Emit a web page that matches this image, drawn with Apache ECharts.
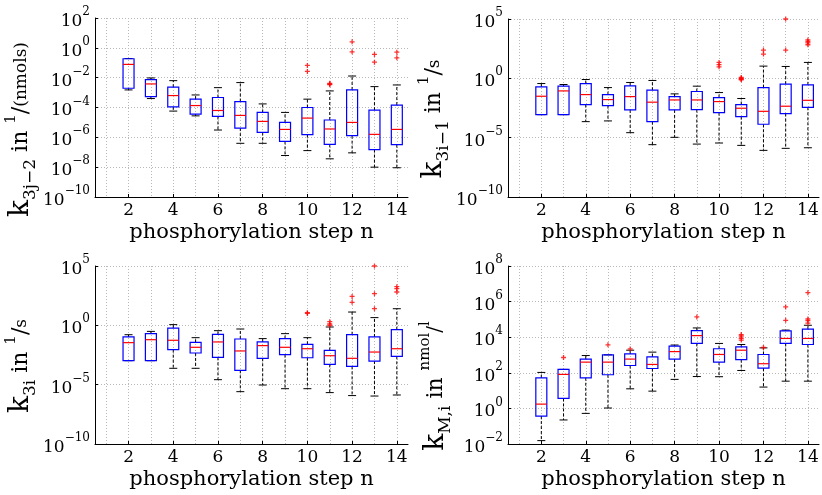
<!DOCTYPE html>
<html><head><meta charset="utf-8">
<script src="https://cdn.jsdelivr.net/npm/echarts@6/dist/echarts.min.js"></script>
<style>html,body{margin:0;padding:0;background:#fff}#c{width:822px;height:495px}</style>
</head><body><div id="c"></div>
<script>
// x categories (phosphorylation step n)
const categories = ['1','2','3','4','5','6','7','8','9','10','11','12','13','14'];
const boxCats = ['2','3','4','5','6','7','8','9','10','11','12','13','14'];

// each box: [lower whisker, q1, median, q3, upper whisker]
const k3jm2Box = [
  [1.51e-3, 1.95e-3, 7.76e-2, 1.86e-1, 1.9e-1],
  [3.98e-4, 5.37e-4, 3.8e-3, 7.41e-3, 9.55e-3],
  [5.75e-5, 1.10e-4, 6.31e-4, 2.29e-3, 6.31e-3],
  [2.75e-5, 3.63e-5, 1.35e-4, 3.63e-4, 6.92e-4],
  [3.09e-6, 2.51e-5, 6.31e-5, 4.68e-4, 2.14e-3],
  [3.98e-7, 4.17e-6, 2.95e-5, 2.51e-4, 4.68e-3],
  [3.98e-7, 2.14e-6, 1.17e-5, 4.68e-5, 1.74e-4],
  [6.03e-8, 5.37e-7, 3.39e-6, 1.0e-5, 4.68e-5],
  [1.29e-7, 1.51e-6, 1.95e-5, 1.0e-4, 3.63e-4],
  [3.63e-8, 3.39e-7, 3.63e-6, 1.45e-5, 1.29e-3],
  [9.12e-8, 1.29e-6, 1.0e-5, 1.51e-3, 1.29e-2],
  [1.0e-8, 1.51e-7, 1.58e-6, 6.61e-5, 2.51e-3],
  [9.12e-9, 3.24e-7, 3.39e-6, 1.45e-4, 3.24e-3]
];
const k3jm2Out = [['10',6.61e-2],['10',2.63e-2],['11',4.17e-3],['11',3.72e-3],['11',3.39e-3],
  ['12',2.51],['12',5.37e-1],['13',3.63e-1],['13',1.10e-1],['14',5.13e-1],['14',2.14e-1]];

const k3im1Box = [
  [8.71e-4, 8.71e-4, 3.09e-2, 1.91e-1, 3.63e-1],
  [8.71e-4, 8.71e-4, 8.71e-2, 2.19e-1, 3.02e-1],
  [2.24e-4, 6.17e-3, 4.27e-2, 3.63e-1, 7.94e-1],
  [2.57e-4, 5.01e-3, 1.62e-2, 4.27e-2, 1.66e-1],
  [2.63e-5, 2.19e-3, 2.88e-2, 2.34e-1, 4.47e-1],
  [2.57e-6, 2.24e-4, 9.77e-3, 1.0e-1, 6.61e-1],
  [1.07e-5, 2.19e-3, 1.51e-2, 2.88e-2, 4.9e-2],
  [2.88e-6, 2.34e-3, 1.51e-2, 7.76e-2, 2.19e-1],
  [3.55e-6, 1.29e-3, 1.10e-2, 2.4e-2, 6.31e-2],
  [2.24e-6, 5.89e-4, 3.02e-3, 6.17e-3, 2.0e-2],
  [8.51e-7, 1.35e-4, 1.66e-3, 1.66e-1, 10.7],
  [1.26e-6, 1.07e-3, 4.47e-3, 3.24e-1, 10],
  [1.41e-6, 3.63e-3, 1.41e-2, 2.82e-1, 21.9]
];
const k3im1Out = [['10',21.9],['10',14.1],['10',9.33],['11',1.17],['11',1.0],['11',0.851],['11',0.759],
  ['12',240],['12',110],['13',1e5],['13',240],['14',1700],['14',1260],['14',955],['14',676]];

const k3iBox = [
  [1.05e-3, 1.05e-3, 3.47e-2, 1.05e-1, 1.62e-1],
  [1.05e-3, 1.05e-3, 6.17e-2, 2.0e-1, 3.09e-1],
  [2.4e-4, 8.91e-3, 5.5e-2, 5.89e-1, 1.15],
  [2.4e-4, 4.68e-3, 1.41e-2, 3.72e-2, 9.12e-2],
  [2.63e-5, 2.0e-3, 3.98e-2, 1.74e-1, 3.55e-1],
  [2.57e-6, 1.62e-4, 6.92e-3, 7.08e-2, 4.9e-1],
  [9.33e-6, 1.66e-3, 1.95e-2, 3.98e-2, 7.59e-2],
  [4.57e-6, 3.39e-3, 1.41e-2, 7.59e-2, 2.0e-1],
  [4.57e-6, 1.86e-3, 1.07e-2, 2.51e-2, 9.12e-2],
  [2.14e-6, 5.13e-4, 2.75e-3, 7.76e-3, 7.24e-1],
  [1.2e-6, 3.47e-4, 1.66e-3, 1.62e-1, 13.2],
  [1.1e-6, 9.77e-4, 5.62e-3, 1.05e-1, 4.47],
  [1.35e-6, 2.45e-3, 1.07e-2, 4.27e-1, 25.1]
];
const k3iOut = [['10',11.7],['10',10],['11',2.04],['11',1.29],['11',1.0],['12',275],['12',87.1],
  ['13',1e5],['13',468],['13',25.1],['14',1820],['14',1230],['14',646]];

const kMBox = [
  [1.55e-2, 3.72e-1, 1.74, 52.5, 105],
  [2.24e-1, 3.63, 81.3, 155, 155],
  [5.25e-1, 52.5, 398, 589, 933],
  [1.05, 77.6, 398, 1020, 1020],
  [12.6, 257, 589, 1170, 1860],
  [9.33, 174, 295, 794, 1450],
  [42.7, 589, 1550, 3160, 3630],
  [61.7, 4470, 12300, 23400, 33100],
  [60.3, 398, 1070, 2240, 4470],
  [135, 550, 1860, 2880, 3890],
  [15.8, 182, 324, 1070, 2510],
  [33.9, 4470, 8510, 22900, 25100],
  [33.9, 3890, 8510, 28200, 46800]
];
const kMOut = [['3',724],['5',3720],['6',2190],['9',138000],['11',14100],['11',11700],['11',8710],['11',6920],
  ['12',2630],['13',501000],['13',89100],['14',3.16e6],['14',105000],['14',85100],['14',61700]];

// y tick settings: [min, max, interval (decades)]
const yRanges = [[1e-10, 1e2, 2], [1e-10, 1e5, 5], [1e-10, 1e5, 5], [1e-2, 1e8, 2]];
const yNames = [
  '{k|k}{sub|3j−2}{t| in }{sup|1}{t|/}{sm|(nmols)}',
  '{k|k}{sub|3i−1}{t| in }{sup|1}{t|/}{sm|s}',
  '{k|k}{sub|3i}{t| in }{sup|1}{t|/}{sm|s}',
  '{k|k}{sub|M,i}{t| in }{sup|nmol}{sl|/}{sup|l}'
];
const xName = 'phosphorylation step n';

const FONT = 'DejaVu Serif';
const grids = [
  {left: 95, top: 18, width: 313, height: 179},
  {left: 508, top: 19, width: 311, height: 178},
  {left: 95, top: 266, width: 313, height: 178},
  {left: 508, top: 266, width: 311, height: 178}
];
const namePad = [44, 22, 22, 62];
const boxes = [k3jm2Box, k3im1Box, k3iBox, kMBox];
const outs = [k3jm2Out, k3im1Out, k3iOut, kMOut];

function supLabel(v) {
  const e = Math.round(Math.log10(v));
  return '{b|10}{e|' + (e < 0 ? '−' + (-e) : e) + '}';
}

function renderBox(params, api) {
  const xi = api.value(0);
  const pMin = api.coord([xi, api.value(1)]);
  const pQ1 = api.coord([xi, api.value(2)]);
  const pMed = api.coord([xi, api.value(3)]);
  const pQ3 = api.coord([xi, api.value(4)]);
  const pMax = api.coord([xi, api.value(5)]);
  const cx = pMed[0];
  const hw = 5.5, cw = 4;
  const dash = {stroke: '#000', lineWidth: 1, lineDash: [3, 2]};
  const solid = {stroke: '#000', lineWidth: 1};
  return {type: 'group', children: [
    {type: 'line', shape: {x1: cx, y1: pQ3[1], x2: cx, y2: pMax[1]}, style: dash},
    {type: 'line', shape: {x1: cx, y1: pQ1[1], x2: cx, y2: pMin[1]}, style: dash},
    {type: 'line', shape: {x1: cx - cw, y1: pMax[1], x2: cx + cw, y2: pMax[1]}, style: solid},
    {type: 'line', shape: {x1: cx - cw, y1: pMin[1], x2: cx + cw, y2: pMin[1]}, style: solid},
    {type: 'rect', shape: {x: cx - hw, y: pQ3[1], width: 2 * hw, height: pQ1[1] - pQ3[1]},
      style: {fill: 'none', stroke: '#0000ff', lineWidth: 1.2}},
    {type: 'line', shape: {x1: cx - hw, y1: pMed[1], x2: cx + hw, y2: pMed[1]},
      style: {stroke: '#ff0000', lineWidth: 1.2}}
  ]};
}

const gridLine = {show: true, lineStyle: {color: '#b8b8b8', type: [1, 2], width: 1}};
const xAxes = [], yAxes = [], series = [];
for (let i = 0; i < 4; i++) {
  xAxes.push({
    gridIndex: i, type: 'category', data: categories, boundaryGap: true,
    axisLine: {show: true, onZero: false, lineStyle: {color: '#000', width: 1}},
    axisTick: {show: true, inside: true, alignWithLabel: true, length: 3, lineStyle: {color: '#000'}},
    splitLine: Object.assign({alignWithLabel: true, interval: 0}, gridLine),
    axisLabel: {interval: function (idx) { return idx % 2 === 1; }, fontFamily: FONT, fontSize: 17, color: '#000', margin: 5},
    name: xName, nameLocation: 'middle', nameGap: 25,
    nameTextStyle: {fontFamily: FONT, fontSize: 21, color: '#000'}
  });
  const r = yRanges[i];
  yAxes.push({
    gridIndex: i, type: 'log', logBase: 10, min: r[0], max: r[1], interval: r[2],
    axisLine: {show: true, lineStyle: {color: '#000', width: 1}},
    axisTick: {show: true, inside: true, length: 3, lineStyle: {color: '#000'}},
    splitLine: gridLine,
    axisLabel: {
      formatter: supLabel, margin: 5, color: '#000',
      rich: {
        b: {fontFamily: FONT, fontSize: 17, lineHeight: 24, verticalAlign: 'bottom', color: '#000'},
        e: {fontFamily: FONT, fontSize: 12, lineHeight: 14, verticalAlign: 'top', color: '#000'}
      }
    },
    name: yNames[i], nameLocation: 'middle', nameRotate: 90, nameGap: 54,
    nameTextStyle: {
      color: '#000', padding: [0, namePad[i], 0, 0],
      rich: {
        t: {fontFamily: FONT, fontSize: 22, lineHeight: 36, color: '#000'},
        k: {fontFamily: FONT, fontSize: 28, lineHeight: 36, color: '#000'},
        sub: {fontFamily: FONT, fontSize: 17, lineHeight: 17, verticalAlign: 'bottom', color: '#000'},
        sup: {fontFamily: FONT, fontSize: 15, lineHeight: 22, verticalAlign: 'top', color: '#000'},
        sm: {fontFamily: FONT, fontSize: 17, lineHeight: 36, color: '#000'},
        sl: {fontFamily: FONT, fontSize: 20, lineHeight: 36, color: '#000'}
      }
    }
  });
  series.push({
    type: 'custom', xAxisIndex: i, yAxisIndex: i, renderItem: renderBox,
    encode: {x: 0, y: [1, 2, 3, 4, 5]},
    data: boxCats.map(function (c, j) { return [c].concat(boxes[i][j]); }),
    z: 3
  });
  series.push({
    type: 'scatter', xAxisIndex: i, yAxisIndex: i, data: outs[i],
    symbol: 'path://M5,0L5,10M0,5L10,5', symbolSize: 5,
    itemStyle: {color: 'transparent', borderColor: '#ff0000', borderWidth: 1.3},
    z: 4
  });
}

const chart = echarts.init(document.getElementById('c'), null, {renderer: 'canvas'});
chart.setOption({
  animation: false, backgroundColor: '#fff',
  grid: grids, xAxis: xAxes, yAxis: yAxes, series: series
});
</script></body></html>
